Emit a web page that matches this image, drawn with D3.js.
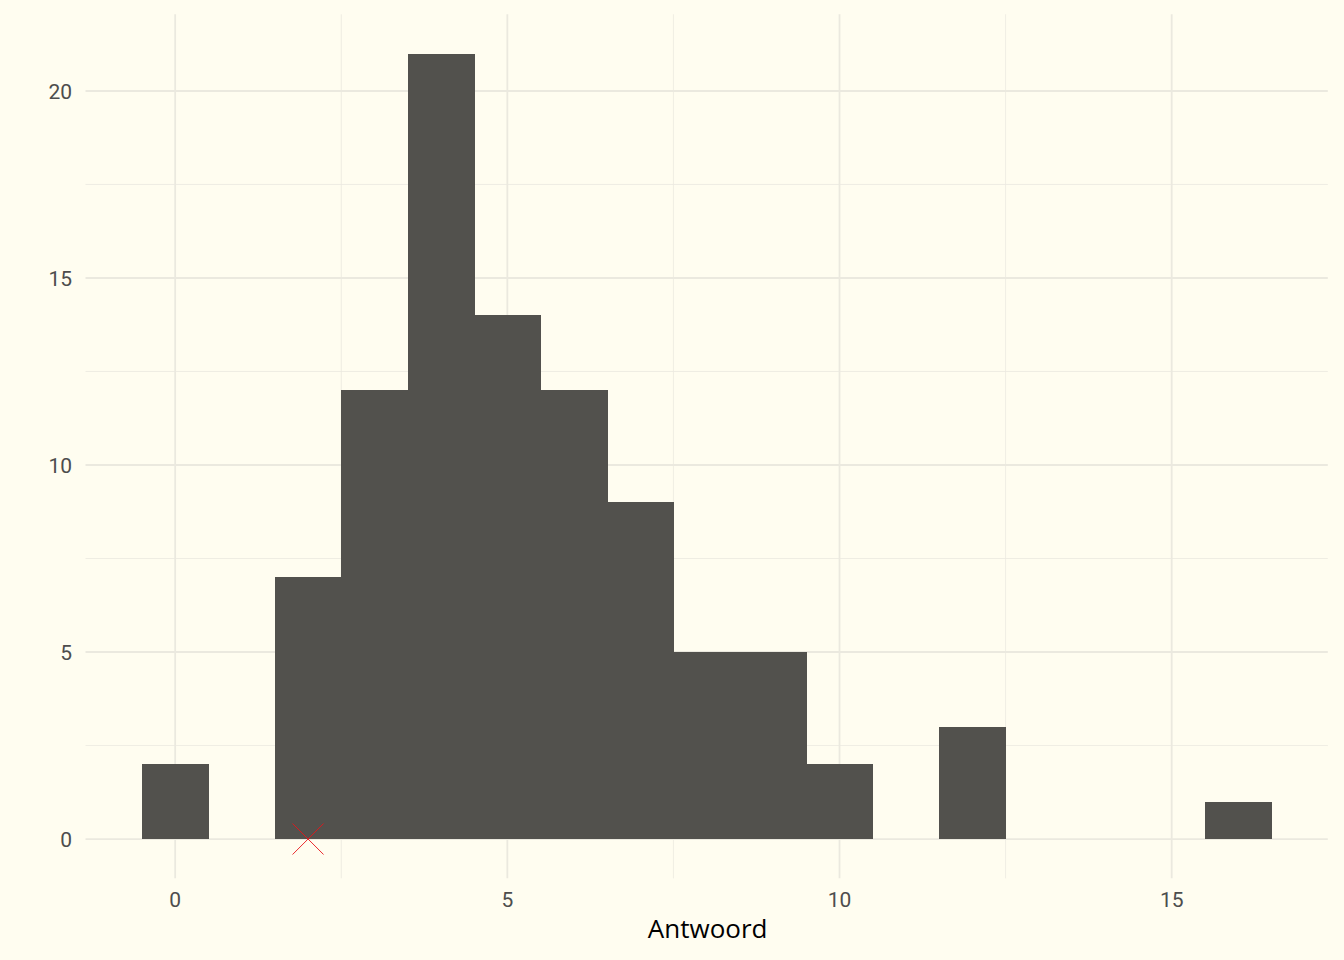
<!DOCTYPE html>
<html><head><meta charset="utf-8">
<script src="https://cdn.jsdelivr.net/npm/d3@7"></script>
<style>
html,body{margin:0;padding:0;background:#FFFDF0;}
svg{display:block;}
</style></head>
<body>
<script>
const binCenters = [0, 2, 3, 4, 5, 6, 7, 8, 9, 10, 12, 16];
const counts     = [2, 7, 12, 21, 14, 12, 9, 5, 5, 2, 3, 1];
const xTicks = [0, 5, 10, 15];
const xMinor = [2.5, 7.5, 12.5];
const yTicks = [0, 5, 10, 15, 20];
const yMinor = [2.5, 7.5, 12.5, 17.5];
const markerX = [2];
const markerY = [0];
const xLabel = "Antwoord";

const W = 1344, H = 960;
const svg = d3.select("body").append("svg").attr("width", W).attr("height", H);
svg.append("rect").attr("width", W).attr("height", H).attr("fill", "#FFFDF0");

const x = d3.scaleLinear().domain([-1.35, 17.35]).range([85.5, 1327.8]);
const y = d3.scaleLinear().domain([-1.05, 22.05]).range([878.3, 14.3]);
const tickFont = "'Liberation Sans Narrow', 'Roboto', sans-serif";
const font = "'Open Sans', 'Noto Sans', sans-serif";
const grid = "#EBE9DF";

const g = svg.append("g");
// minor grid
g.selectAll(".ymin").data(yMinor).join("line")
  .attr("x1", x.range()[0]).attr("x2", x.range()[1])
  .attr("y1", d => y(d)).attr("y2", d => y(d))
  .attr("stroke", grid).attr("stroke-width", 0.8);
g.selectAll(".xmin").data(xMinor).join("line")
  .attr("y1", y.range()[0]).attr("y2", y.range()[1])
  .attr("x1", d => x(d)).attr("x2", d => x(d))
  .attr("stroke", grid).attr("stroke-width", 0.8);
// major grid
g.selectAll(".ymaj").data(yTicks).join("line")
  .attr("x1", x.range()[0]).attr("x2", x.range()[1])
  .attr("y1", d => y(d)).attr("y2", d => y(d))
  .attr("stroke", grid).attr("stroke-width", 1.8);
g.selectAll(".xmaj").data(xTicks).join("line")
  .attr("y1", y.range()[0]).attr("y2", y.range()[1])
  .attr("x1", d => x(d)).attr("x2", d => x(d))
  .attr("stroke", grid).attr("stroke-width", 1.8);

// bars
g.selectAll(".bar").data(binCenters).join("rect")
  .attr("x", d => x(d - 0.5))
  .attr("width", d => x(d + 0.5) - x(d - 0.5) + 0.6)
  .attr("y", (d, i) => y(counts[i]))
  .attr("height", (d, i) => y(0) - y(counts[i]))
  .attr("fill", "#52514D")
  .attr("shape-rendering", "crispEdges");

// marker (cross)
const s = 15.5;
markerX.forEach((mx, i) => {
  const cx = x(mx), cy = y(markerY[i]);
  g.append("path")
    .attr("d", `M${cx - s},${cy - s}L${cx + s},${cy + s}M${cx - s},${cy + s}L${cx + s},${cy - s}`)
    .attr("stroke", "#E8141A").attr("stroke-width", 0.9).attr("fill", "none");
});

// tick labels
g.selectAll(".xl").data(xTicks).join("text")
  .attr("x", d => x(d)).attr("y", 907)
  .attr("text-anchor", "middle")
  .attr("font-family", tickFont).attr("font-size", 21).attr("fill", "#4D4D4D")
  .text(d => d);
g.selectAll(".yl").data(yTicks).join("text")
  .attr("x", 72).attr("y", d => y(d) + 8)
  .attr("text-anchor", "end")
  .attr("font-family", tickFont).attr("font-size", 21).attr("fill", "#4D4D4D")
  .text(d => d);

svg.append("text").attr("x", x(8) + 1).attr("y", 938)
  .attr("text-anchor", "middle")
  .attr("font-family", font).attr("font-size", 26).attr("fill", "#000")
  .text(xLabel);
</script>
</body></html>
